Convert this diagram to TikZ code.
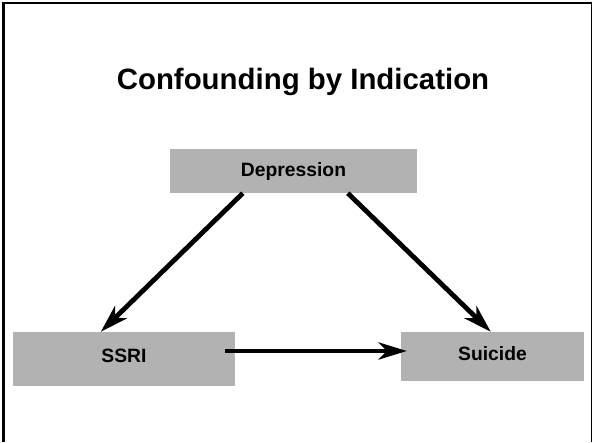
\documentclass[tikz,border=0pt]{standalone}
\usepackage{fontspec}
\setmainfont{Liberation Sans}
\usetikzlibrary{arrows.meta,calc}
\tikzset{
  every node/.style={font=\bfseries},
  box/.style={fill=gray!60, draw=none, inner sep=0pt, anchor=center,
    font=\fontsize{19.3}{22}\bfseries\selectfont, text height=0.716em, text depth=0pt},
  link/.style={line width=4.8pt, -{Stealth[length=28pt, width=17pt, inset=8pt]}},
  frameline/.style={black}
}
\begin{document}
\begin{tikzpicture}[x=1pt, y=-1pt]
  \useasboundingbox (0,0) rectangle (592,442);
  % slide frame (open at the bottom)
  \draw[frameline, line width=3pt] (3.2,442) -- (3.2,1.7);
  \draw[frameline, line width=2pt] (1.7,2.7) -- (592,2.7);
  \draw[frameline, line width=1.2pt] (591.2,1.7) -- (591.2,442);

  % title
  \node[font=\fontsize{29.4}{34}\bfseries\selectfont, anchor=base] (title) at (303,89) {Confounding by Indication};

  % variables
  \node[box, minimum width=247pt, minimum height=44pt, text height=0.716em+3pt] (dep) at (293.5,171) {Depression};
  \node[box, minimum width=222pt, minimum height=54pt] (ssri) at (124,359) {SSRI};
  \node[box, minimum width=183pt, minimum height=49pt] (sui) at (492.5,356.5) {Suicide};

  % causal arrows
  \draw[link] ([xshift=73pt]dep.south west) -- ([xshift=88pt]ssri.north west);
  \draw[link] ([xshift=178pt]dep.south west) -- ([xshift=90pt]sui.north west);
  \coordinate (h) at ([xshift=-10pt,yshift=8pt]ssri.east);
  \path (h -| sui.west) coordinate (hs);
  \draw[link] (h) -- ([xshift=6pt]hs);
\end{tikzpicture}
\end{document}
